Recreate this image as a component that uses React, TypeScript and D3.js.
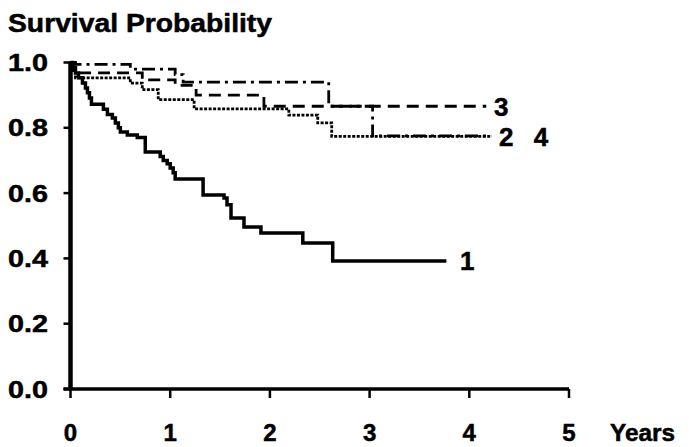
import { useEffect, useRef } from 'react';
import * as d3 from 'd3';

type Pt = [number, number];

// step data: [years, survival] — value holds from that time on
const curve1: Pt[] = [
  [0, 1.0], [0.02, 0.985], [0.05, 0.968], [0.08, 0.953], [0.12, 0.937], [0.15, 0.922],
  [0.17, 0.907], [0.19, 0.891], [0.21, 0.872], [0.33, 0.857], [0.37, 0.841], [0.42, 0.83],
  [0.45, 0.815], [0.48, 0.8], [0.5, 0.787], [0.57, 0.778], [0.67, 0.77], [0.75, 0.726],
  [0.9, 0.712], [0.93, 0.7], [0.97, 0.69], [1.0, 0.677], [1.03, 0.662], [1.05, 0.643],
  [1.33, 0.594], [1.54, 0.585], [1.57, 0.564], [1.61, 0.524], [1.74, 0.496], [1.91, 0.478],
  [2.33, 0.447], [2.63, 0.392], [3.77, 0.392],
];
const curve2: Pt[] = [
  [0, 1.0], [0.02, 0.975], [0.05, 0.953], [0.6, 0.937], [0.72, 0.917], [0.88, 0.886],
  [1.24, 0.858], [2.19, 0.839], [2.48, 0.815], [2.62, 0.774], [4.22, 0.774],
];
const curve3: Pt[] = [
  [0, 1.0], [0.03, 0.968], [0.72, 0.947], [1.05, 0.93], [1.26, 0.9], [1.94, 0.866], [4.17, 0.866],
];
const curve4: Pt[] = [
  [0, 1.0], [0.05, 0.994], [0.6, 0.98], [1.05, 0.963], [1.13, 0.94], [2.59, 0.866],
  [3.03, 0.775], [4.22, 0.775],
];

const curves = [
  { name: '1', data: curve1, width: 3.5, dash: '' },
  { name: '2', data: curve2, width: 2.8, dash: '3,1.5' },
  { name: '3', data: curve3, width: 2.8, dash: '12,7' },
  { name: '4', data: curve4, width: 2.8, dash: '13,5,3,5' },
];

const xTicks = [0, 1, 2, 3, 4, 5];
const yTicks = [0, 0.2, 0.4, 0.6, 0.8, 1.0];

// end labels: [text, x in years, y in survival]
const endLabels: [string, number, number][] = [
  ['1', 3.98, 0.392],
  ['3', 4.32, 0.866],
  ['2', 4.37, 0.774],
  ['4', 4.72, 0.774],
];

export default function App() {
  const svgRef = useRef<SVGSVGElement>(null);

  useEffect(() => {
    if (!svgRef.current) return;
    document.body.style.margin = '0';
    const W = 689, H = 447;
    const svg = d3.select(svgRef.current).attr('width', W).attr('height', H);
    svg.selectAll('*').remove();

    const font = '"Liberation Sans", Arial, Helvetica, sans-serif';
    const x = d3.scaleLinear().domain([0, 5]).range([70.5, 569]);
    const y = d3.scaleLinear().domain([0, 1]).range([389, 62.5]);

    const boldText = (sel: d3.Selection<SVGTextElement, unknown, null, undefined>, size: number) =>
      sel.style('font-family', font).style('font-weight', 'bold').style('font-size', `${size}px`)
        .style('stroke', '#000').style('stroke-width', 0.5);

    // Title
    boldText(svg.append('text').attr('x', 8).attr('y', 32)
      .attr('textLength', 264).attr('lengthAdjust', 'spacingAndGlyphs'), 25)
      .text('Survival Probability');

    // Curves
    const line = d3.line<Pt>().x(d => x(d[0])).y(d => y(d[1])).curve(d3.curveStepAfter);
    for (const c of curves) {
      svg.append('path').datum(c.data).attr('d', line)
        .style('fill', 'none').style('stroke', '#000')
        .style('stroke-width', c.width)
        .style('stroke-dasharray', c.dash || null);
    }

    // Axes
    svg.append('line').attr('x1', x(0)).attr('x2', x(0)).attr('y1', y(0) + 1).attr('y2', y(1) - 1)
      .style('stroke', '#000').style('stroke-width', 4.5);
    svg.append('line').attr('x1', x(0) - 7).attr('x2', x(5)).attr('y1', y(0)).attr('y2', y(0))
      .style('stroke', '#000').style('stroke-width', 3.5);

    const yg = svg.append('g');
    yTicks.forEach(v => {
      yg.append('line').attr('x1', x(0) - 7).attr('x2', x(0)).attr('y1', y(v)).attr('y2', y(v))
        .style('stroke', '#000').style('stroke-width', 2.5);
      boldText(yg.append('text').attr('x', 48).attr('y', y(v)).attr('dy', '0.36em')
        .attr('text-anchor', 'end')
        .attr('textLength', 40).attr('lengthAdjust', 'spacingAndGlyphs'), 24)
        .text(v.toFixed(1));
    });

    const xg = svg.append('g');
    xTicks.forEach(v => {
      xg.append('line').attr('x1', x(v)).attr('x2', x(v)).attr('y1', y(0)).attr('y2', y(0) + 9)
        .style('stroke', '#000').style('stroke-width', 2.5);
      boldText(xg.append('text').attr('x', x(v)).attr('y', 441).attr('text-anchor', 'middle'), 24)
        .text(String(v));
    });
    boldText(svg.append('text').attr('x', 610).attr('y', 441)
      .attr('textLength', 65).attr('lengthAdjust', 'spacingAndGlyphs'), 24)
      .text('Years');

    // Curve labels
    for (const [t, tx, ty] of endLabels) {
      boldText(svg.append('text').attr('x', x(tx)).attr('y', y(ty)).attr('dy', '0.36em')
        .attr('text-anchor', 'middle'), 26)
        .text(t);
    }
  }, []);

  return <svg ref={svgRef} style={{ display: 'block' }} />;
}
